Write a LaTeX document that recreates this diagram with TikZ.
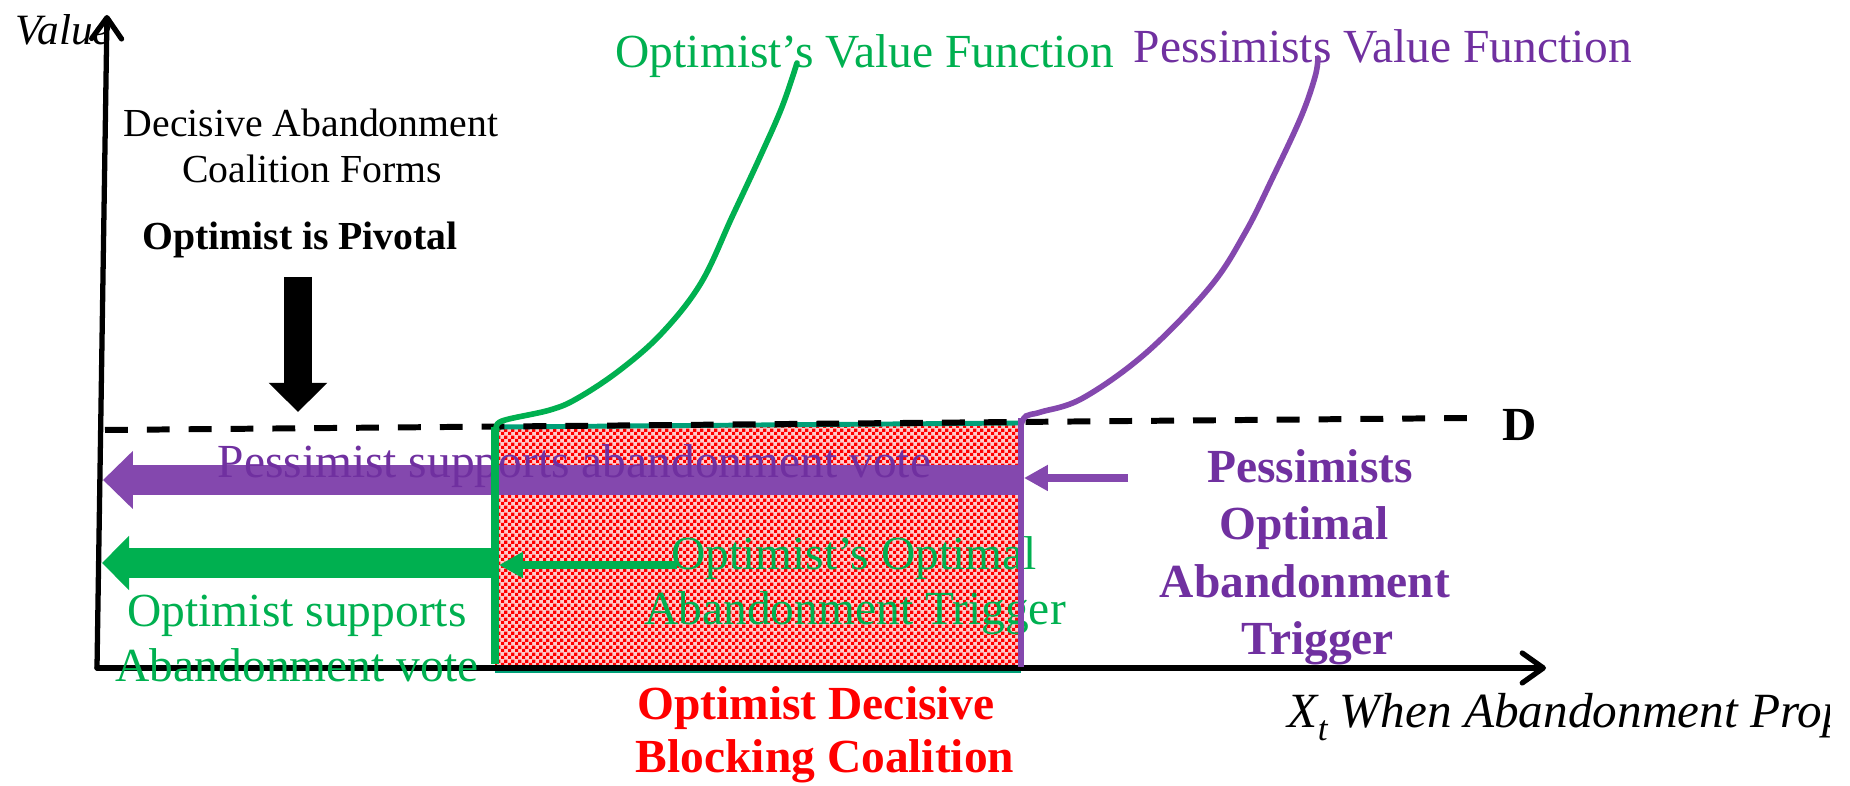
\documentclass[tikz,border=0pt]{standalone}
\usepackage{fontspec}
\setmainfont{Liberation Serif}
\usetikzlibrary{arrows.meta,patterns}
\definecolor{ogreen}{RGB}{0,176,80}
\definecolor{ppurple}{RGB}{112,48,160}
\definecolor{parrow}{RGB}{132,72,174}
\definecolor{tealline}{RGB}{0,160,120}
\pgfdeclarepatternformonly{finechecker}{\pgfpointorigin}{\pgfqpoint{1.9pt}{1.9pt}}{\pgfqpoint{1.9pt}{1.9pt}}{%
  \pgfpathrectangle{\pgfpointorigin}{\pgfqpoint{0.95pt}{0.95pt}}%
  \pgfpathrectangle{\pgfqpoint{0.95pt}{0.95pt}}{\pgfqpoint{0.95pt}{0.95pt}}%
  \pgfusepath{fill}}
\begin{document}
\begin{tikzpicture}[x=0.01cm,y=-0.01cm,
  txt/.style={inner sep=0pt, font=\fontsize{13.5pt}{16pt}\selectfont},
  txtb/.style={inner sep=0pt, font=\fontsize{13.5pt}{16pt}\selectfont\bfseries},
  smalltxt/.style={inner sep=0pt, font=\fontsize{11.3pt}{13pt}\selectfont},
  smallb/.style={inner sep=0pt, font=\fontsize{11.3pt}{13pt}\selectfont\bfseries},
  axisline/.style={line width=1.5pt, line cap=round, -{Straight Barb[length=6pt,width=8.5pt,line cap=round,line join=round]}},
  bigpurple/.style={parrow, line width=8.5pt, -{Triangle[length=8.5pt,width=16pt]}},
  biggreen/.style={ogreen, line width=8.3pt, -{Triangle[length=7.7pt,width=15pt]}},
  thinarrow/.style={line width=2.3pt, -{Triangle[length=6.8pt,width=7pt]}},
  valcurve/.style={line width=1.6pt, line cap=round, smooth, tension=0.6},
]
\useasboundingbox (0,0) rectangle (1850,786);

% hatched region
\coordinate (rtl) at (495,427);
\coordinate (rtr) at (1021,423);
\coordinate (rbr) at (1021,667);
\coordinate (rbl) at (495,667);
\fill[red!20] (rtl) -- (rtr) -- (rbr) -- (rbl) -- cycle;
\path[pattern=finechecker, pattern color=red] (rtl) -- (rtr) -- (rbr) -- (rbl) -- cycle;
\draw[tealline, line width=1.4pt] (rtl) -- (rtr);
\draw[tealline, line width=1pt] (495,671) -- (1021,671);

% dashed level D
\coordinate (dL) at (105,430);
\coordinate (dR) at (1473,418);
\draw[line width=1.7pt, dash pattern=on 6.5pt off 5.4pt] (dL) -- (dR);
\node[txtb, anchor=base] (dlab) at (1520,441) {D};

% axes
\coordinate (O) at (97,668);
\coordinate (ytip) at (107,15);
\coordinate (xtip) at (1546,668);
\draw[axisline] (O) -- (ytip);
\draw[axisline] (O) -- (xtip);
\node[inner sep=0pt, anchor=base west, font=\fontsize{12.3pt}{14pt}\selectfont\itshape] (value) at (15,45) {Value};
\begin{scope}
  \clip (0,0) rectangle (1829,786);
  \node[inner sep=0pt, anchor=base west, font=\fontsize{14pt}{16pt}\selectfont\itshape] (xlab) at (1287,728)
    {X\raisebox{-3.5pt}{\fontsize{10pt}{10pt}\selectfont t} When Abandonment Prop};
\end{scope}

% block arrows
\coordinate (pR) at (1021,480);
\coordinate (pL) at (103,480);
\draw[bigpurple] (pR) -- (pL);
\coordinate (gR) at (495,563);
\coordinate (gL) at (102,563);
\draw[biggreen] (gR) -- (gL);
\coordinate (bT) at (298,277);
\coordinate (bB) at (298,412);
\draw[line width=7.7pt, -{Triangle[length=8.3pt,width=16.2pt]}] (bT) -- (bB);

% thin arrows
\coordinate (tgS) at (677,565);
\coordinate (tgE) at (499,565);
\draw[ogreen, thinarrow] (tgS) -- (tgE);
\coordinate (tpS) at (1128,478);
\coordinate (tpE) at (1024,478);
\draw[parrow, thinarrow] (tpS) -- (tpE);

% texts
\node[smalltxt, anchor=base] (dec1) at (311,137) {Decisive Abandonment};
\node[smalltxt, anchor=base] (dec2) at (312,183) {Coalition Forms};
\node[smallb, anchor=base] (pivotal) at (300,250) {Optimist is Pivotal};
\node[txt, ogreen, anchor=base west] (ovf) at (615,68) {Optimist’s Value Function};
\node[txt, ppurple, anchor=base west] (pvf) at (1133,63) {Pessimists Value Function};
\node[txt, ppurple, anchor=base west] (psup) at (217,478) {Pessimist supports abandonment vote};
\node[txt, ogreen, anchor=base] (oopt1) at (854,570) {Optimist’s Optimal};
\node[txt, ogreen, anchor=base] (oopt2) at (855,625) {Abandonment Trigger};
\node[txt, ogreen, anchor=base] (osup1) at (297,627) {Optimist supports};
\node[txt, ogreen, anchor=base] (osup2) at (297,682) {Abandonment vote};
\node[txtb, ppurple, anchor=base] (popt1) at (1310,483) {Pessimists};
\node[txtb, ppurple, anchor=base] (popt2) at (1304,540) {Optimal};
\node[txtb, ppurple, anchor=base] (popt3) at (1305,598) {Abandonment};
\node[txtb, ppurple, anchor=base] (popt4) at (1318,655) {Trigger};
\node[txtb, red, anchor=base] (odb1) at (816,720) {Optimist Decisive};
\node[txtb, red, anchor=base] (odb2) at (825,773) {Blocking Coalition};

% trigger lines
\draw[ogreen, line width=2.3pt] (rtl) -- (495,664);
\draw[parrow, line width=1.8pt] (1021,418) -- (rbr);

% value functions
\draw[ogreen, valcurve] plot coordinates {(497,430) (502,421) (550,410) (578,398) (620,370) (662,333) (701,283) (732,217) (760,157) (782,107) (797,63)};
\draw[parrow, valcurve] plot coordinates {(1021,425) (1026,416) (1041,412) (1083,398) (1146,353) (1210,287) (1245,233) (1273,177) (1301,117) (1315,77) (1318,58)};
\end{tikzpicture}
\end{document}
